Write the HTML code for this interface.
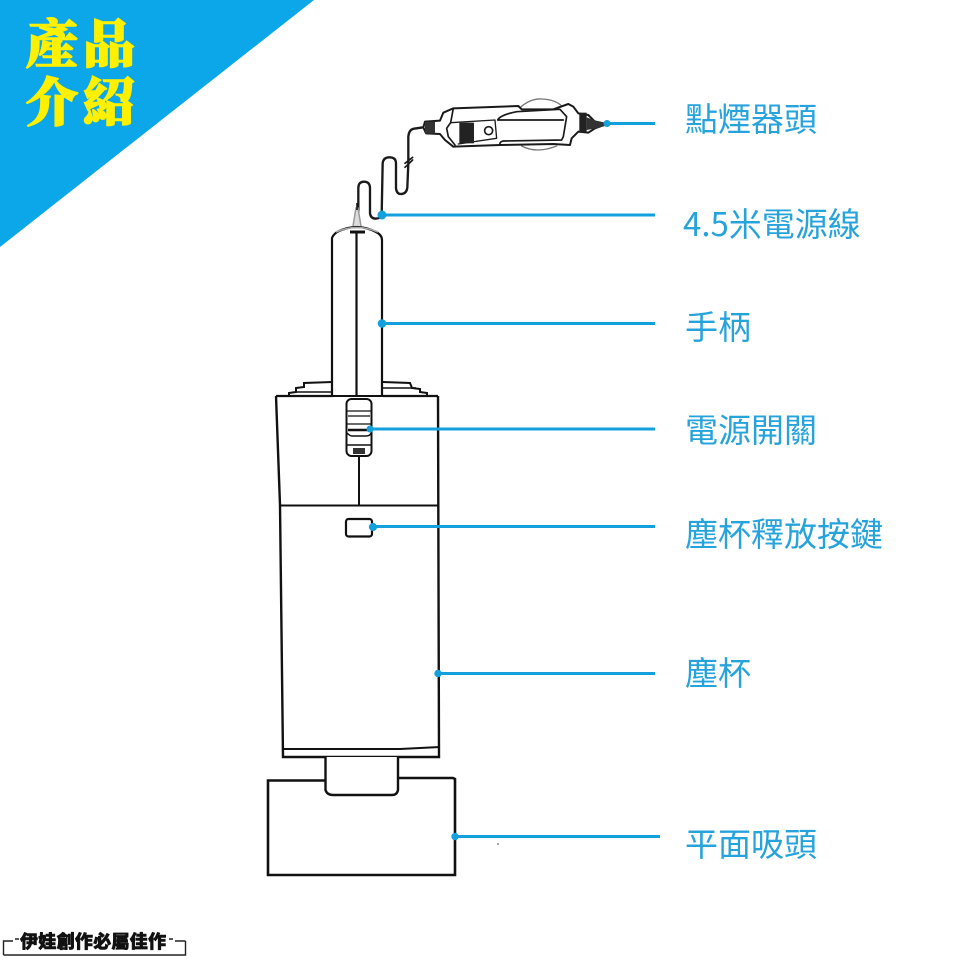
<!DOCTYPE html>
<html>
<head>
<meta charset="utf-8">
<style>
html,body{margin:0;padding:0;background:#fff;}
#c{position:relative;width:960px;height:960px;overflow:hidden;background:#fff;}
svg{position:absolute;left:0;top:0;}
.l{position:absolute;white-space:nowrap;color:#27a3dc;font-family:"Noto Sans CJK TC","Liberation Sans",sans-serif;font-size:33px;line-height:40px;font-weight:400;}
.h{position:absolute;white-space:nowrap;color:#fff000;font-family:"Liberation Serif","Noto Serif CJK SC",serif;font-size:52px;line-height:56px;font-weight:900;letter-spacing:5px;-webkit-text-stroke:1.6px #fff000;}
.w{position:absolute;white-space:nowrap;color:#111;font-family:"Liberation Sans","Noto Sans CJK TC",sans-serif;font-size:18px;line-height:20px;font-weight:900;letter-spacing:0.3px;-webkit-text-stroke:0.6px #111;}
</style>
</head>
<body>
<div id="c">
<svg width="960" height="960" viewBox="0 0 960 960" fill="none" stroke="#111">
<polygon points="0,0 314,0 0,247" fill="#0ca7e8" stroke="none"/>

<!-- plug & cord (coordinates in 3x crop space) -->
<g transform="translate(340 80) scale(.3333)" stroke="#1a1a1a" stroke-width="6" stroke-linejoin="round" stroke-linecap="round">
  <path d="M55 400V325Q55 305 72 305Q90 305 90 325V400Q92 416 108 416Q125 414 125 405L128 250Q130 232 148 232Q168 232 168 250V325Q170 342 182 342Q200 342 202 322L205 250V170Q207 148 222 146L250 142" stroke-width="7"/>
  <path d="M195 250L218 232M195 262L218 240" stroke-width="5"/>
  <path d="M538 85Q570 55 605 57Q650 58 672 85M545 198Q590 222 650 198" stroke="#777" stroke-width="4"/>
  <path d="M255 125L300 122L310 98L340 85L535 78L545 88L640 88L685 72L700 80L715 100L745 105L765 125L790 130V136L765 145L745 158L715 155L695 175L690 195L640 192L480 195L340 200L315 180L300 162L258 160L250 142Z" fill="#fff"/>
  <path d="M340 85L332 128L320 145L325 170L345 195" stroke-width="5"/>
  <path d="M332 128L465 120L470 175L355 192"  stroke-width="4"/>
  <path d="M473 120Q480 105 530 95L660 88L680 110L670 170L665 180L490 183Q478 185 480 195M473 120H670" stroke-width="5"/>
  <rect x="358" y="128" width="44" height="62" fill="#222" stroke="none"/>
  <circle cx="446" cy="152" r="12" stroke-width="5"/>
  <rect x="255" y="125" width="30" height="36" fill="#333" stroke="none"/>
  <rect x="718" y="98" width="22" height="58" fill="#222" stroke="none"/>
  <path d="M740 112L768 122L795 128V138L768 145L740 150Z" fill="#333" stroke="none"/>
</g>

<!-- handle -->
<path d="M353 226L356 208H358L361 226" stroke="#999" stroke-width="1.5" fill="#ddd"/>
<path d="M357 203V210" stroke-width="1.5"/>
<path d="M332 396V238Q333 235 337 232Q357 222 376 232Q382 235 382 240V396" stroke-width="2.200" stroke="#111"/>
<path d="M336 232Q357 223 378 232" stroke="#aaa" stroke-width="1.5"/>
<path d="M350 232H365" stroke-width="3"/>
<path d="M356.500 232V396" stroke-width="2.200"/>
<path d="M332 396H383" stroke-width="2"/>

<!-- shoulders -->
<path d="M289 396V393L296 392V388L304 387V383L332 382M383 382L410 383L412 388L420 389V392L427 393V395" stroke-width="2"/>
<path d="M297 392H332M383 388H416" stroke-width="1.5"/>

<!-- body -->
<path d="M276 396L280 505L283 757H439L438 396" stroke-width="2.400"/>
<path d="M276 396H333M383 396H438" stroke-width="2.200"/>
<path d="M280 505.500H438" stroke-width="2"/>
<path d="M283 749H400L440 747" stroke-width="2"/>
<path d="M359 456V505" stroke-width="2"/>

<!-- switch -->
<rect x="346.500" y="399" width="25" height="57" rx="5" stroke-width="2" fill="#fff"/>
<path d="M347 411H371M348 416H370M347 424H371" stroke-width="1.200"/>
<path d="M348 430H370" stroke-width="2.500"/>
<path d="M347 433Q350 436 352 436H366Q370 436 371 433" stroke-width="1.400"/>
<path d="M347 445H371" stroke-width="1.400"/>
<rect x="353" y="448" width="12" height="6" fill="#333" stroke="none"/>

<!-- release button -->
<rect x="346" y="519" width="26" height="17.500" rx="2.500" stroke-width="2.200" fill="#fff"/>

<!-- neck and head -->
<path d="M325.500 757V790Q327 795 333 795H392Q397 795 398 790V757" stroke-width="2.400" fill="#fff"/>
<path d="M325 780.500H268V875H455V779L453 778H399" stroke-width="2.600"/>
<circle cx="498" cy="844" r="0.800" fill="#333" stroke="none"/>

<!-- leader lines -->
<g stroke="#13a0dc" stroke-width="3" fill="#13a0dc">
  <path d="M607 123.500H655"/><circle cx="607" cy="123.500" r="2"/>
  <path d="M382 215H655"/><circle cx="382" cy="215" r="3"/>
  <path d="M383 323.500H655"/><circle cx="382" cy="323.500" r="2.800"/>
  <path d="M370 429H655"/><circle cx="370" cy="429" r="2"/>
  <path d="M373 526.500H655"/><circle cx="373" cy="527" r="2.600"/>
  <path d="M438 673.500H655"/><circle cx="438" cy="673.500" r="2.200"/>
  <path d="M455 836.500H660"/><circle cx="455" cy="836.500" r="2.200"/>
</g>

<!-- watermark bracket -->
<path d="M3.500 955V941H13M185.500 941V955H3.500M185.500 941H175" stroke="#222" stroke-width="1.400"/>
<path d="M15 939H19M169 939H173" stroke="#222" stroke-width="1.600"/>
</svg>

<div class="h" style="left:26px;top:19px;">產品</div>
<div class="h" style="left:26px;top:77px;">介紹</div>

<div class="l" style="left:685px;top:97px;">點煙器頭</div>
<div class="l" style="left:683px;top:202px;">4.5米電源線</div>
<div class="l" style="left:685px;top:305px;">手柄</div>
<div class="l" style="left:685px;top:408px;">電源開關</div>
<div class="l" style="left:685px;top:512px;">塵杯釋放按鍵</div>
<div class="l" style="left:685px;top:651px;">塵杯</div>
<div class="l" style="left:685px;top:822px;">平面吸頭</div>

<div class="w" style="left:20px;top:932px;">伊娃創作必屬佳作</div>
</div>
</body>
</html>
